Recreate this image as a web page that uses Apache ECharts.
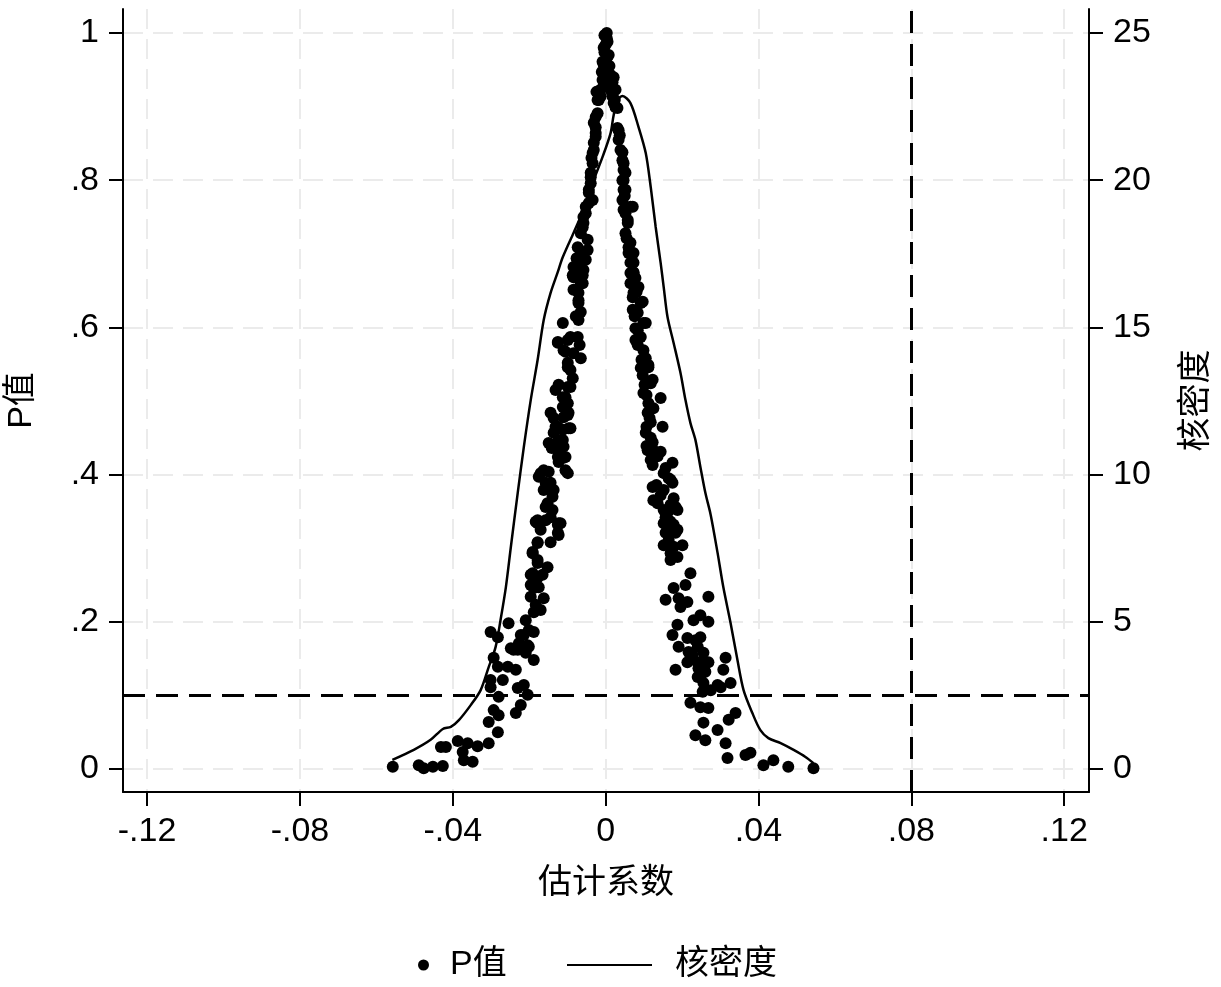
<!DOCTYPE html>
<html>
<head>
<meta charset="utf-8">
<title>P值与核密度</title>
<script src="https://cdn.jsdelivr.net/npm/echarts@6/dist/echarts.min.js"></script>
<style>
  html, body { margin: 0; padding: 0; background: #fff; }
  #main { width: 1221px; height: 987px; }
</style>
</head>
<body>
<div id="main"></div>
<script>
// tick labels
var coefTicks = [-0.12, -0.08, -0.04, 0, 0.04, 0.08, 0.12];
var pTicks = [0, 0.2, 0.4, 0.6, 0.8, 1];
var densityTicks = [0, 5, 10, 15, 20, 25];

// reference lines
var pCut = 0.1;
var coefCut = 0.079;

// [估计系数, P值]
var peakPoints = [
    [0.0003, 1.0], [0.0003, 0.993], [0, 0.984], [-0.0003, 0.974], [0.0003, 0.966],
    [-0.0005, 0.957], [0.0005, 0.947], [-0.0008, 0.936], [0.0008, 0.929], [-0.0013, 0.923],
    [0.0013, 0.943], [0.0018, 0.933], [0.0016, 0.920], [-0.0016, 0.913],
    [-0.0003, 0.997], [0.0005, 0.988], [-0.0005, 0.980], [0.0008, 0.970], [-0.0008, 0.961],
    [0.0010, 0.955], [-0.0010, 0.947], [0.0003, 0.939], [-0.0005, 0.929], [-0.0024, 0.920],
    [-0.0013, 0.914], [0.0018, 0.914], [0.0024, 0.909]
];

var leftPoints = [
    [-0.0021, 0.909], [-0.0026, 0.886], [-0.0026, 0.872], [-0.0026, 0.859], [-0.0031, 0.841],
    [-0.0034, 0.823], [-0.0039, 0.804], [-0.0044, 0.787], [-0.0034, 0.773], [-0.0052, 0.764],
    [-0.0058, 0.750], [-0.0060, 0.736], [-0.0047, 0.719], [-0.0073, 0.709], [-0.0065, 0.701],
    [-0.0052, 0.692], [-0.0084, 0.682], [-0.0073, 0.671], [-0.0060, 0.671],
    [-0.0018, 0.909], [-0.0021, 0.891], [-0.0031, 0.878], [-0.0026, 0.864], [-0.0031, 0.851],
    [-0.0034, 0.837], [-0.0037, 0.830], [-0.0039, 0.810], [-0.0039, 0.796], [-0.0044, 0.783],
    [-0.0044, 0.769], [-0.0052, 0.755], [-0.0058, 0.742], [-0.0065, 0.728], [-0.0047, 0.705],
    [-0.0076, 0.694], [-0.0073, 0.688], [-0.0058, 0.678], [-0.0084, 0.668],
    [-0.0065, 0.688], [-0.0086, 0.671], [-0.0065, 0.660], [-0.0071, 0.647], [-0.0071, 0.633],
    [-0.0071, 0.610], [-0.0112, 0.606], [-0.0092, 0.587], [-0.0073, 0.587], [-0.0125, 0.579],
    [-0.0105, 0.567], [-0.0065, 0.558], [-0.0099, 0.552], [-0.0092, 0.542], [-0.0092, 0.519],
    [-0.0131, 0.515], [-0.0105, 0.505], [-0.0112, 0.492], [-0.0144, 0.484], [-0.0099, 0.481],
    [-0.0125, 0.465], [-0.0097, 0.463], [-0.0136, 0.457], [-0.0112, 0.447], [-0.0149, 0.443],
    [-0.0125, 0.433], [-0.0105, 0.424], [-0.0123, 0.417], [-0.0099, 0.402], [-0.0162, 0.406],
    [-0.0175, 0.397], [-0.0144, 0.389], [-0.0162, 0.379], [-0.0139, 0.370], [-0.0157, 0.356],
    [-0.0144, 0.342], [-0.0118, 0.334], [-0.0183, 0.336], [-0.0170, 0.325], [-0.0125, 0.321],
    [-0.0078, 0.674], [-0.0060, 0.660], [-0.0084, 0.651], [-0.0071, 0.637], [-0.0065, 0.621],
    [-0.0078, 0.615], [-0.0125, 0.580], [-0.0099, 0.583], [-0.0068, 0.576], [-0.0110, 0.569],
    [-0.0084, 0.565], [-0.0099, 0.546], [-0.0086, 0.531], [-0.0123, 0.522], [-0.0099, 0.519],
    [-0.0112, 0.505], [-0.0099, 0.497], [-0.0136, 0.477], [-0.0110, 0.478], [-0.0097, 0.484],
    [-0.0131, 0.465], [-0.0112, 0.461], [-0.0092, 0.463], [-0.0141, 0.436], [-0.0123, 0.447],
    [-0.0110, 0.438], [-0.0125, 0.424], [-0.0110, 0.423], [-0.0105, 0.406], [-0.0170, 0.402],
    [-0.0149, 0.404], [-0.0157, 0.389], [-0.0136, 0.379], [-0.0152, 0.361], [-0.0139, 0.352],
    [-0.0178, 0.338], [-0.0157, 0.338], [-0.0123, 0.334],
    [-0.0178, 0.334], [-0.0125, 0.332], [-0.0123, 0.318], [-0.0178, 0.307], [-0.0144, 0.308],
    [-0.0191, 0.293], [-0.0178, 0.280], [-0.0152, 0.274], [-0.0196, 0.264], [-0.0178, 0.260],
    [-0.0188, 0.246], [-0.0196, 0.234], [-0.0162, 0.232], [-0.0170, 0.216], [-0.0188, 0.213],
    [-0.0209, 0.202], [-0.0254, 0.198], [-0.0188, 0.186], [-0.0214, 0.182], [-0.0301, 0.186],
    [-0.0282, 0.179], [-0.0227, 0.171], [-0.0201, 0.166], [-0.0248, 0.164], [-0.0230, 0.162],
    [-0.0188, 0.148], [-0.0293, 0.151], [-0.0282, 0.139], [-0.0256, 0.139], [-0.0235, 0.135],
    [-0.0301, 0.121], [-0.0269, 0.121], [-0.0214, 0.114], [-0.0230, 0.110], [-0.0301, 0.111],
    [-0.0204, 0.101], [-0.0280, 0.098], [-0.0222, 0.087], [-0.0293, 0.080], [-0.0280, 0.073],
    [-0.0235, 0.076], [-0.0306, 0.064], [-0.0282, 0.050], [-0.0306, 0.035], [-0.0335, 0.031],
    [-0.0361, 0.035], [-0.0387, 0.038], [-0.0374, 0.023], [-0.0371, 0.012], [-0.0348, 0.010],
    [-0.0431, 0.030], [-0.0418, 0.030], [-0.0426, 0.004], [-0.0452, 0.003], [-0.0476, 0.001],
    [-0.0489, 0.005], [-0.0557, 0.003],
    [-0.0178, 0.308], [-0.0191, 0.295], [-0.0178, 0.284], [-0.0191, 0.266], [-0.0165, 0.264],
    [-0.0196, 0.250], [-0.0175, 0.247], [-0.0183, 0.223], [-0.0204, 0.168], [-0.0209, 0.158],
    [-0.0241, 0.162], [-0.0222, 0.182], [-0.0201, 0.189]
];

var rightPoints = [
    [0.0021, 0.940], [0.0026, 0.923], [0.0026, 0.899], [0.0031, 0.871], [0.0034, 0.855],
    [0.0044, 0.838], [0.0047, 0.823], [0.0052, 0.810], [0.0044, 0.800], [0.0047, 0.787],
    [0.0044, 0.773], [0.0047, 0.760], [0.0071, 0.764], [0.0058, 0.746], [0.0052, 0.728],
    [0.0060, 0.709], [0.0073, 0.701], [0.0065, 0.688], [0.0073, 0.675],
    [0.0018, 0.918], [0.0021, 0.905], [0.0031, 0.898], [0.0034, 0.868], [0.0037, 0.861],
    [0.0039, 0.841], [0.0044, 0.827], [0.0047, 0.814], [0.0047, 0.800], [0.0052, 0.787],
    [0.0050, 0.779], [0.0065, 0.764], [0.0052, 0.755], [0.0058, 0.742], [0.0055, 0.721],
    [0.0065, 0.715], [0.0060, 0.701], [0.0071, 0.688], [0.0065, 0.674],
    [0.0073, 0.688], [0.0073, 0.674], [0.0086, 0.655], [0.0073, 0.647], [0.0092, 0.633],
    [0.0071, 0.624], [0.0099, 0.606], [0.0084, 0.596], [0.0078, 0.583], [0.0099, 0.569],
    [0.0112, 0.549], [0.0092, 0.545], [0.0097, 0.535], [0.0118, 0.524], [0.0099, 0.511],
    [0.0144, 0.504], [0.0112, 0.497], [0.0110, 0.484], [0.0118, 0.471], [0.0149, 0.465],
    [0.0105, 0.457], [0.0123, 0.444], [0.0110, 0.433], [0.0144, 0.431], [0.0118, 0.420],
    [0.0175, 0.416], [0.0152, 0.402], [0.0170, 0.393], [0.0123, 0.383], [0.0152, 0.379],
    [0.0125, 0.365], [0.0178, 0.368], [0.0152, 0.352], [0.0183, 0.356], [0.0157, 0.342],
    [0.0178, 0.332], [0.0188, 0.325], [0.0157, 0.321],
    [0.0078, 0.667], [0.0065, 0.660], [0.0081, 0.648], [0.0071, 0.641], [0.0097, 0.635],
    [0.0076, 0.615], [0.0084, 0.620], [0.0105, 0.606], [0.0078, 0.599], [0.0092, 0.587],
    [0.0084, 0.576], [0.0105, 0.558], [0.0094, 0.556], [0.0112, 0.546], [0.0102, 0.522],
    [0.0123, 0.529], [0.0107, 0.508], [0.0125, 0.490], [0.0115, 0.477], [0.0107, 0.465],
    [0.0118, 0.450], [0.0107, 0.439], [0.0125, 0.433], [0.0136, 0.425], [0.0123, 0.413],
    [0.0157, 0.409], [0.0165, 0.395], [0.0175, 0.389], [0.0133, 0.386], [0.0144, 0.372],
    [0.0136, 0.361], [0.0170, 0.359], [0.0162, 0.349], [0.0188, 0.352], [0.0165, 0.338],
    [0.0170, 0.336],
    [0.0152, 0.334], [0.0175, 0.329], [0.0162, 0.321], [0.0183, 0.321], [0.0152, 0.304],
    [0.0178, 0.302], [0.0201, 0.304], [0.0170, 0.293], [0.0188, 0.288], [0.0222, 0.266],
    [0.0209, 0.250], [0.0178, 0.246], [0.0269, 0.234], [0.0157, 0.230], [0.0191, 0.232],
    [0.0214, 0.227], [0.0196, 0.220], [0.0248, 0.209], [0.0230, 0.202], [0.0269, 0.200],
    [0.0188, 0.196], [0.0175, 0.182], [0.0248, 0.179], [0.0214, 0.178], [0.0191, 0.166],
    [0.0241, 0.166], [0.0217, 0.159], [0.0256, 0.158], [0.0269, 0.145], [0.0241, 0.145],
    [0.0214, 0.145], [0.0314, 0.151], [0.0183, 0.135], [0.0308, 0.135], [0.0261, 0.132],
    [0.0241, 0.125], [0.0256, 0.117], [0.0293, 0.114], [0.0327, 0.117], [0.0254, 0.105],
    [0.0222, 0.090], [0.0248, 0.084], [0.0269, 0.083], [0.0340, 0.076], [0.0322, 0.067],
    [0.0256, 0.063], [0.0293, 0.053], [0.0235, 0.046], [0.0261, 0.039], [0.0314, 0.035],
    [0.0319, 0.015], [0.0366, 0.019], [0.0379, 0.022], [0.0413, 0.005], [0.0439, 0.012],
    [0.0478, 0.003], [0.0544, 0.001],
    [0.0165, 0.311], [0.0170, 0.284], [0.0235, 0.175], [0.0227, 0.155], [0.0248, 0.145],
    [0.0248, 0.125], [0.0275, 0.107], [0.0301, 0.111], [0.0243, 0.137]
];

// [估计系数, 核密度]
var densityCurve = [
    [-0.0558, 0.31], [-0.0502, 0.65], [-0.0458, 0.99], [-0.0426, 1.36], [-0.0405, 1.43],
    [-0.0384, 1.66], [-0.0353, 2.17], [-0.0327, 2.68], [-0.0306, 3.46], [-0.0288, 4.14],
    [-0.0275, 5.06], [-0.0261, 6.18], [-0.0248, 7.54], [-0.0230, 9.38], [-0.0214, 10.94],
    [-0.0196, 12.53], [-0.0178, 13.89], [-0.0162, 15.25], [-0.0144, 16.17], [-0.0126, 16.85],
    [-0.0112, 17.39], [-0.0084, 18.21], [-0.0058, 18.99], [-0.0031, 20.01], [-0.0008, 20.79],
    [0.0013, 21.60], [0.0021, 22.21], [0.0031, 22.72], [0.0044, 22.86], [0.0065, 22.62],
    [0.0086, 21.81], [0.0105, 20.92], [0.0118, 19.77], [0.0131, 18.41], [0.0144, 17.19],
    [0.0152, 16.37], [0.0162, 15.35], [0.0178, 14.47], [0.0196, 13.45], [0.0209, 12.53],
    [0.0222, 11.75], [0.0235, 11.18], [0.0248, 10.26], [0.0261, 9.38], [0.0275, 8.63],
    [0.0293, 7.34], [0.0308, 6.18], [0.0327, 4.96], [0.0345, 3.70], [0.0361, 2.68],
    [0.0384, 1.90], [0.0405, 1.32], [0.0426, 1.05], [0.0458, 0.88], [0.0492, 0.65],
    [0.0523, 0.41], [0.0544, 0.20]
];

var FONT = '"Liberation Sans", "Noto Sans CJK SC", sans-serif';

// stata style: .2 instead of 0.2
function stataLabel(v) {
    return String(v).replace(/^(-?)0\./, '$1.');
}

var gridLine = { show: true, lineStyle: { color: '#ebebeb', width: 2, type: [20, 10] } };
var blackLine = { show: true, onZero: false, lineStyle: { color: '#000', width: 2 } };
var blackTick = { show: true, length: 14, lineStyle: { color: '#000', width: 2 } };

var chart = echarts.init(document.getElementById('main'), null, { renderer: 'canvas' });

var option = {
    animation: false,
    backgroundColor: '#fff',
    textStyle: { fontFamily: FONT, color: '#000' },
    // fixed plot box, no auto shrinking for labels
    grid: { left: 123, right: 132, top: 9, bottom: 195, containLabel: false, outerBoundsMode: 'none' },
    legend: [
        {
            data: ['P值'],
            left: 413, top: 943,
            icon: 'circle', itemWidth: 11, itemHeight: 11, itemGap: 0,
            textStyle: { fontSize: 34, color: '#000', fontFamily: FONT, padding: [0, 0, 0, 16] }
        },
        {
            data: ['核密度'],
            left: 562, top: 943,
            icon: 'rect', itemWidth: 85, itemHeight: 2, itemGap: 0,
            textStyle: { fontSize: 34, color: '#000', fontFamily: FONT, padding: [0, 0, 0, 18] }
        }
    ],
    xAxis: {
        type: 'value',
        min: -0.1263, max: 0.1265,
        name: '估计系数', nameLocation: 'middle', nameGap: 75,
        nameTextStyle: { fontSize: 34, color: '#000', fontFamily: FONT },
        axisLine: blackLine,
        axisTick: Object.assign({ customValues: coefTicks }, blackTick),
        axisLabel: { fontSize: 34, color: '#000', margin: 23, formatter: stataLabel, customValues: coefTicks },
        splitLine: gridLine
    },
    yAxis: [
        {
            type: 'value', position: 'left',
            min: -0.03125, max: 1.0326,
            name: 'P值', nameLocation: 'middle', nameGap: 84, nameRotate: 90,
            nameTextStyle: { fontSize: 34, color: '#000', fontFamily: FONT },
            axisLine: blackLine,
            axisTick: Object.assign({ customValues: pTicks }, blackTick),
            axisLabel: { fontSize: 34, color: '#000', margin: 24, formatter: stataLabel, customValues: pTicks },
            splitLine: gridLine
        },
        {
            type: 'value', position: 'right',
            min: -0.78125, max: 25.815,
            name: '核密度', nameLocation: 'middle', nameGap: 91, nameRotate: 90,
            nameTextStyle: { fontSize: 34, color: '#000', fontFamily: FONT },
            axisLine: blackLine,
            axisTick: Object.assign({ customValues: densityTicks }, blackTick),
            axisLabel: { fontSize: 34, color: '#000', margin: 24, customValues: densityTicks },
            splitLine: { show: false }
        }
    ],
    series: [
        {
            name: 'P值',
            type: 'scatter',
            yAxisIndex: 0,
            symbol: 'circle',
            symbolSize: 12,
            itemStyle: { color: '#000', opacity: 1 },
            data: peakPoints.concat(leftPoints, rightPoints),
            markLine: {
                silent: true,
                symbol: 'none',
                label: { show: false },
                lineStyle: { color: '#000', width: 3, type: [22, 11] },
                data: [{ yAxis: pCut }, { xAxis: coefCut }]
            },
            z: 3
        },
        {
            name: '核密度',
            type: 'line',
            yAxisIndex: 1,
            symbol: 'none',
            smooth: 0.3,
            lineStyle: { color: '#000', width: 2.5 },
            itemStyle: { color: '#000' },
            data: densityCurve,
            z: 4
        }
    ]
};

chart.setOption(option);
</script>
</body>
</html>
